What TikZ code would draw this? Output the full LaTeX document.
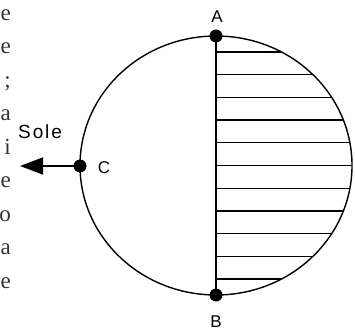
\documentclass[tikz,border=0pt]{standalone}
\usepackage{fontspec}
\setmainfont{Liberation Serif}
\newfontfamily\labfont{Liberation Sans}
\usetikzlibrary{arrows.meta}
\begin{document}
\begin{tikzpicture}[x=1pt,y=-1pt,
  outline/.style={line width=1.4pt},
  hatchline/.style={line width=1.3pt},
  chordline/.style={line width=2pt},
  dotmark/.style={circle,fill=black,inner sep=0pt,minimum size=13pt},
  lab/.style={font=\labfont\fontsize{17}{17}\selectfont, inner sep=0pt},
  txtfrag/.style={font=\fontsize{23}{23}\selectfont, text=black!80, inner sep=0pt, anchor=base east}]
\useasboundingbox (0,0) rectangle (355,336);
% text fragments at left edge
\foreach \ch [count=\i from 0] in {e,e,;,a,i,e,o,a,e}{
  \node[txtfrag] (frag\i) at (11,20.4+33.5*\i) {\ch};
}
% hatch lines
\foreach \k in {-5,...,5}{
  \pgfmathsetmacro\dy{22.7*\k}
  \pgfmathsetmacro\dx{136*sqrt(1-(\dy/129.5)^2)}
  \draw[hatchline] (216,165.5+\dy) -- ++(\dx,0);
}
% outline
\draw[outline] (216,165.5) ellipse [x radius=136, y radius=129.5];
% points
\node[dotmark] (A) at (216,36) {};
\node[dotmark] (B) at (216,295) {};
\node[dotmark] (C) at (80,166) {};
\draw[chordline] (A.center) -- (B.center);
% arrow
\coordinate (tipend) at (20,166);
\draw[line width=1.6pt, -{Triangle[length=23pt,width=17pt]}] (C.center) -- (tipend);
% labels
\node[lab] (labA) at (217,17) {A};
\node[lab] (labB) at (216,322) {B};
\node[lab] (labC) at (104,167.5) {C};
\node[inner sep=0pt, anchor=base west, font=\labfont\fontsize{19}{19}\selectfont\addfontfeature{LetterSpace=10}] (sole) at (18,138.5) {Sole};
\end{tikzpicture}
\end{document}
